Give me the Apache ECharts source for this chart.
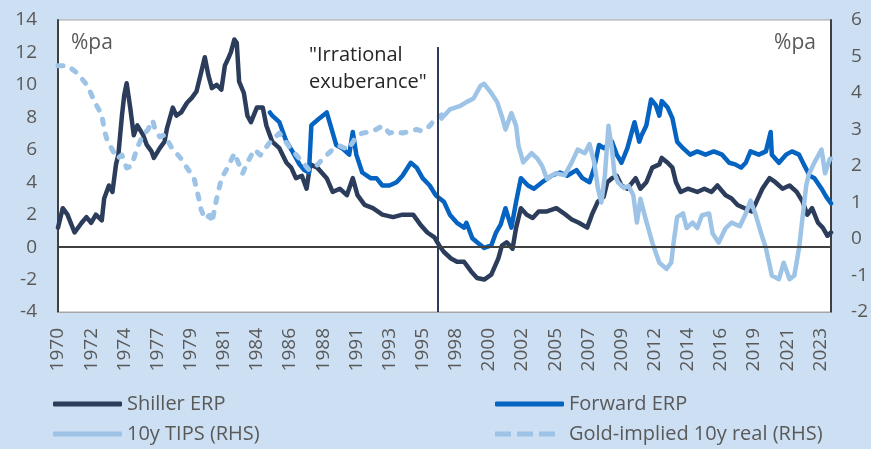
<!DOCTYPE html>
<html>
<head>
<meta charset="utf-8">
<script src="https://cdn.jsdelivr.net/npm/echarts@6/dist/echarts.min.js"></script>
<style>
html,body{margin:0;padding:0;background:#cddff3;}
#chart{width:871px;height:449px;}
</style>
</head>
<body>
<div id="chart"></div>
<script>
// ---- Data (monthly dates, %pa) ----
const shillerERP = [
['1970-01',1.2],['1970-05',2.4],['1970-09',2.0],['1971-03',0.9],['1971-09',1.5],['1972-01',1.85],['1972-05',1.5],['1972-09',2.0],
['1973-02',1.65],['1973-04',3.0],['1973-08',3.8],['1973-11',3.4],['1974-02',5.1],['1974-04',5.7],['1974-07',8.1],['1974-09',9.4],
['1974-11',10.1],['1975-02',8.6],['1975-05',6.9],['1975-08',7.5],['1976-01',6.9],['1976-04',6.3],['1976-08',5.9],['1976-10',5.5],
['1977-03',6.1],['1977-07',6.5],['1977-09',7.3],['1978-02',8.6],['1978-05',8.1],['1978-09',8.3],['1979-02',8.9],['1979-06',9.2],
['1979-10',9.6],['1980-02',10.8],['1980-05',11.7],['1980-08',10.6],['1980-11',9.8],['1981-03',10.0],['1981-07',9.7],['1981-10',11.2],
['1981-12',11.5],['1982-03',12.0],['1982-06',12.8],['1982-08',12.6],['1982-10',10.2],['1983-02',9.5],['1983-05',8.1],['1983-08',7.7],
['1984-01',8.6],['1984-06',8.6],['1984-09',7.5],['1985-02',6.5],['1985-08',6.1],['1986-02',5.2],['1986-06',4.9],['1986-10',4.25],
['1987-03',4.4],['1987-07',3.6],['1987-10',5.1],['1988-04',4.9],['1988-12',4.25],['1989-05',3.4],['1989-11',3.6],['1990-05',3.2],
['1990-10',4.25],['1991-02',3.2],['1991-08',2.6],['1992-03',2.4],['1992-11',2.0],['1993-08',1.85],['1994-04',2.0],['1995-01',2.0],
['1995-07',1.4],['1996-01',0.9],['1996-07',0.6],['1996-11',0.1],['1997-03',-0.3],['1997-09',-0.7],['1998-02',-0.9],['1998-08',-0.9],
['1999-02',-1.5],['1999-07',-1.9],['2000-01',-2.0],['2000-07',-1.7],['2001-01',-0.7],['2001-04',0.1],['2001-08',0.3],['2002-01',-0.1],
['2002-04',1.2],['2002-08',2.4],['2003-01',2.0],['2003-06',1.8],['2003-11',2.2],['2004-06',2.2],['2005-02',2.4],['2005-08',2.1],
['2006-03',1.7],['2006-09',1.5],['2007-04',1.2],['2007-08',2.0],['2008-01',2.8],['2008-06',3.1],['2008-09',4.0],['2009-01',4.25],
['2009-05',4.4],['2009-09',3.8],['2010-02',3.6],['2010-09',4.25],['2011-01',3.6],['2011-06',4.0],['2011-11',4.9],['2012-05',5.1],
['2012-07',5.5],['2012-12',5.2],['2013-04',4.9],['2013-07',4.0],['2013-11',3.4],['2014-05',3.6],['2015-01',3.4],['2015-07',3.6],
['2016-01',3.4],['2016-06',3.8],['2017-01',3.2],['2017-06',3.0],['2017-11',2.6],['2018-05',2.4],['2018-11',2.2],['2019-03',2.8],
['2019-08',3.6],['2020-02',4.25],['2020-07',4.0],['2021-01',3.6],['2021-07',3.8],['2022-01',3.4],['2022-06',2.8],['2022-10',2.0],
['2023-02',2.4],['2023-07',1.5],['2023-11',1.2],['2024-03',0.7],['2024-06',0.9]
];
const forwardERP = [
['1984-12',8.3],['1985-02',8.1],['1985-08',7.7],['1986-02',6.5],['1986-07',5.9],['1987-01',5.1],['1987-05',4.75],['1987-09',4.6],
['1987-11',7.5],['1988-02',7.7],['1988-06',7.95],['1988-12',8.3],['1989-04',7.3],['1989-08',6.3],['1990-01',6.1],['1990-07',5.7],
['1990-10',7.1],['1991-01',5.7],['1991-06',4.6],['1992-01',4.25],['1992-06',4.25],['1992-11',3.8],['1993-05',3.8],['1993-11',4.0],
['1994-04',4.4],['1994-11',5.2],['1995-04',4.9],['1995-09',4.25],['1996-03',3.8],['1996-08',3.2],['1997-03',2.8],['1997-08',2.0],
['1998-02',1.5],['1998-08',1.2],['1998-10',1.5],['1999-03',0.55],['1999-07',0.3],['2000-01',-0.05],['2000-07',0.1],['2000-11',0.9],
['2001-03',1.4],['2001-07',2.4],['2001-12',1.2],['2002-04',2.8],['2002-08',4.25],['2003-02',3.8],['2003-07',3.6],['2004-02',4.0],
['2004-10',4.4],['2005-05',4.6],['2005-11',4.4],['2006-07',4.75],['2006-12',4.25],['2007-06',4.0],['2007-10',4.9],['2008-02',6.3],
['2008-06',6.1],['2009-01',6.5],['2009-05',5.7],['2009-09',5.2],['2010-02',6.1],['2010-08',7.7],['2010-12',6.5],['2011-02',6.9],
['2011-06',7.5],['2011-10',9.1],['2012-02',8.75],['2012-05',8.1],['2012-07',9.0],['2012-12',8.6],['2013-04',7.95],['2013-08',6.5],
['2014-01',6.1],['2014-07',5.7],['2015-01',5.9],['2015-08',5.7],['2016-03',5.9],['2016-10',5.7],['2017-04',5.2],['2017-09',5.1],
['2018-02',4.9],['2018-06',5.2],['2018-10',5.9],['2019-05',5.7],['2019-11',5.9],['2020-03',7.1],['2020-04',5.7],['2020-10',5.2],
['2021-04',5.7],['2021-09',5.9],['2022-03',5.7],['2022-07',5.1],['2022-12',4.4],['2023-04',4.25],['2023-10',3.6],['2024-02',3.1],
['2024-06',2.7]
];
const tips10y = [
['1997-01',3.3],['1997-08',3.55],['1998-05',3.65],['1998-10',3.75],['1999-04',3.85],['1999-10',4.2],['2000-01',4.25],['2000-07',4.0],
['2000-12',3.75],['2001-04',3.35],['2001-07',3.0],['2001-12',3.45],['2002-04',3.1],['2002-06',2.55],['2002-10',2.1],['2003-05',2.35],
['2003-10',2.2],['2004-02',2.0],['2004-06',1.65],['2005-01',1.8],['2005-09',1.75],['2006-03',2.1],['2006-08',2.45],['2007-02',2.35],
['2007-06',2.6],['2007-10',2.1],['2008-01',1.4],['2008-04',1.0],['2008-07',1.75],['2008-10',3.1],['2009-01',2.45],['2009-03',1.8],
['2009-06',1.55],['2009-11',1.4],['2010-03',1.45],['2010-07',1.2],['2010-10',0.45],['2011-01',1.1],['2011-05',0.6],['2011-11',-0.1],
['2012-05',-0.65],['2012-11',-0.82],['2013-03',-0.65],['2013-05',-0.1],['2013-08',0.6],['2014-01',0.7],['2014-04',0.3],['2014-09',0.45],
['2015-01',0.3],['2015-05',0.65],['2015-11',0.7],['2016-02',0.15],['2016-07',-0.1],['2017-01',0.3],['2017-06',0.45],['2018-01',0.35],
['2018-06',0.7],['2018-10',1.05],['2019-02',0.7],['2019-07',0.15],['2019-11',-0.25],['2020-04',-1.0],['2020-10',-1.1],['2021-02',-0.65],
['2021-07',-1.1],['2021-11',-1.0],['2022-03',-0.25],['2022-06',0.6],['2022-09',1.45],['2022-11',1.75],['2023-04',2.1],['2023-10',2.45],
['2024-01',1.8],['2024-05',2.2],['2024-06',2.2]
];
const goldImplied10y = [
['1970-01',4.75],['1970-09',4.75],['1971-05',4.55],['1972-02',4.2],['1972-08',3.75],['1973-02',3.4],['1973-04',3.0],['1973-07',2.65],
['1973-10',2.5],['1974-03',2.2],['1974-07',2.3],['1974-11',1.95],['1975-03',2.0],['1975-08',2.5],['1975-12',2.8],['1976-05',3.0],
['1976-09',3.25],['1976-11',3.0],['1977-03',2.8],['1977-07',2.85],['1978-01',2.5],['1978-09',2.2],['1979-03',1.9],['1979-08',1.65],
['1979-11',1.25],['1980-02',0.8],['1980-05',0.55],['1980-09',0.65],['1980-11',0.45],['1981-03',1.1],['1981-07',1.65],['1982-01',2.0],
['1982-06',2.35],['1983-01',1.8],['1983-05',2.1],['1983-11',2.45],['1984-04',2.3],['1984-12',2.65],['1985-08',2.9],['1986-05',2.5],
['1987-01',2.2],['1987-09',1.9],['1988-03',2.0],['1988-12',2.3],['1989-05',2.45],['1989-11',2.55],['1990-06',2.45],['1990-10',2.65],
['1991-01',2.8],['1991-06',2.9],['1992-03',2.95],['1992-11',3.1],['1993-05',2.9],['1993-11',2.95],['1994-04',2.9],['1994-10',2.95],
['1995-04',3.0],['1995-09',2.95],['1996-03',3.1],['1996-08',3.3],['1997-01',3.4]
];
const xTickLabels = ['1970','1972','1974','1977','1979','1981','1984','1986','1988','1991','1993','1995',
  '1998','2000','2002','2005','2007','2009','2012','2014','2016','2019','2021','2023'];
const firstMonth = '1970-01';
const lastMonth = '2024-06';
const labelEveryMonths = 28;
const eventMonth = '1996-10';       // "Irrational exuberance"
const eventLineTop = 12.33;         // left-axis value where the event line stops

// ---- helpers ----
function monthIdx(s){ const [y,m]=s.split('-').map(Number); return (y-1970)*12+(m-1); }
const toXY = arr => arr.map(d => [monthIdx(d[0]), d[1]]);

const FONT = '"Open Sans", sans-serif';
const GREY = '#595959';
const C_SHILLER = '#2c3d5c', C_FWD = '#0563c1', C_LIGHT = '#9dc3e6';

const chart = echarts.init(document.getElementById('chart'), null, {renderer:'canvas'});
const solidIcon = 'roundRect';
const dashIcon = 'path://M0,0h16v5h-16z M22,0h16v5h-16z M44,0h16v5h-16z M69,0';
const legendText = {color: GREY, fontSize: 20, fontFamily: FONT};
function lg(name, icon, left, top){
  return {data:[{name, icon}], left, top, padding:0, itemWidth:69, itemHeight:5,
    textStyle: legendText, selectedMode:false, itemStyle:{borderWidth:0}};
}
const ev = monthIdx(eventMonth);

chart.setOption({
  backgroundColor: '#cddff3',
  animation: false,
  textStyle: {fontFamily: FONT},
  grid: {left:58, right:39, top:20, bottom:137, show:true, backgroundColor:'#ffffff', borderColor:'#a6a6a6', borderWidth:1},
  legend: [
    lg('Shiller ERP', solidIcon, 53, 394),
    lg('Forward ERP', solidIcon, 495, 394),
    lg('10y TIPS (RHS)', solidIcon, 53, 424),
    lg('Gold-implied 10y real (RHS)', dashIcon, 495, 424)
  ],
  xAxis: {
    type:'value', min: monthIdx(firstMonth), max: monthIdx(lastMonth), interval: labelEveryMonths,
    axisLine:{show:true, onZero:false, lineStyle:{color:'#a6a6a6', width:1}},
    axisTick:{show:false}, splitLine:{show:false},
    axisLabel:{rotate:90, color:GREY, fontSize:19, fontFamily:FONT, margin:16, showMaxLabel:false,
      formatter: v => (v % labelEveryMonths === 0 ? (xTickLabels[v/labelEveryMonths] || '') : '')}
  },
  yAxis: [
    {type:'value', min:-4, max:14, interval:2, position:'left',
     axisLine:{show:true, lineStyle:{color:'#404040', width:2}}, axisTick:{show:false}, splitLine:{show:false},
     axisLabel:{color:GREY, fontSize:19, fontFamily:FONT, margin:21}},
    {type:'value', min:-2, max:6, interval:1, position:'right',
     axisLine:{show:true, lineStyle:{color:'#404040', width:2}}, axisTick:{show:false}, splitLine:{show:false},
     axisLabel:{color:GREY, fontSize:19, fontFamily:FONT, margin:20}}
  ],
  series: [
    {name:'Shiller ERP', type:'line', yAxisIndex:0, data: toXY(shillerERP), showSymbol:false, symbol:'none',
     color:C_SHILLER, lineStyle:{color:C_SHILLER, width:4.5, join:'round', cap:'round'},
     markLine:{silent:true, symbol:['none','none'], label:{show:false}, animation:false,
       data:[
         {yAxis:0, lineStyle:{color:'#404040', width:2, type:'solid'}},
         [{coord:[ev,-4], lineStyle:{color:'#2c3d5c', width:2, type:'solid'}}, {coord:[ev, eventLineTop]}]
       ]}},
    {name:'Forward ERP', type:'line', yAxisIndex:0, data: toXY(forwardERP), showSymbol:false, symbol:'none',
     color:C_FWD, lineStyle:{color:C_FWD, width:4.5, join:'round', cap:'round'}},
    {name:'10y TIPS (RHS)', type:'line', yAxisIndex:1, data: toXY(tips10y), showSymbol:false, symbol:'none',
     color:C_LIGHT, lineStyle:{color:C_LIGHT, width:4.5, join:'round', cap:'round'}},
    {name:'Gold-implied 10y real (RHS)', type:'line', yAxisIndex:1, data: toXY(goldImplied10y), showSymbol:false, symbol:'none',
     color:C_LIGHT, lineStyle:{color:C_LIGHT, width:5, type:[5,10], cap:'round', join:'round'}}
  ],
  graphic: [
    {type:'text', x:71, y:43, style:{text:'%pa', fill:GREY, font:'21px ' + FONT, verticalAlign:'middle', align:'left'}},
    {type:'text', x:816, y:43, style:{text:'%pa', fill:GREY, font:'21px ' + FONT, verticalAlign:'middle', align:'right'}},
    {type:'text', x:309, y:55, style:{text:'"Irrational', fill:'#262626', font:'20px ' + FONT, verticalAlign:'middle', align:'left'}},
    {type:'text', x:309, y:82, style:{text:'exuberance"', fill:'#262626', font:'20px ' + FONT, verticalAlign:'middle', align:'left'}}
  ]
});
</script>
</body>
</html>
